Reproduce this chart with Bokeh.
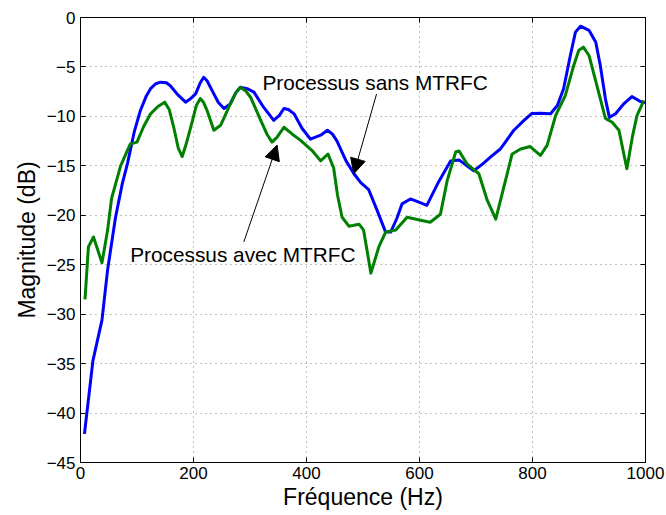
from bokeh.plotting import figure
from bokeh.models import Range1d, FixedTicker, Label, Arrow, NormalHead, LinearAxis
from bokeh.embed import file_html
from bokeh.resources import INLINE

# ---- data ----
freq_sans = [7, 22, 38, 48, 62, 74, 83, 95, 106, 116, 124, 133, 142, 152, 159, 172, 186,
             195, 204, 212, 218, 224, 233, 244, 254, 265, 275, 283, 295, 307, 324, 342,
             352, 360, 368, 378, 392, 407, 425, 437, 446, 454, 470, 484, 496, 510, 525,
             540, 549, 560, 569, 584, 600, 613, 634, 655, 670, 684, 696, 712, 726, 743,
             767, 785, 799, 814, 832, 844, 855, 867, 876, 885, 900, 912, 920, 929, 936,
             947, 962, 976, 991, 1000]
mag_sans = [-42.1, -34.7, -30.6, -25.5, -20.2, -16.8, -14.8, -11.6, -9.4, -8.0, -7.2, -6.7,
            -6.54, -6.6, -6.9, -7.8, -8.56, -8.2, -7.7, -6.6, -6.04, -6.4, -7.4, -8.6, -9.2,
            -8.75, -7.6, -7.05, -7.2, -7.55, -9.07, -10.4, -9.9, -9.2, -9.3, -9.74, -11.2,
            -12.3, -11.9, -11.4, -11.8, -12.5, -14.5, -15.8, -16.7, -17.4, -19.5, -21.7,
            -21.7, -20.3, -18.85, -18.35, -18.7, -19.0, -16.6, -14.5, -14.4, -15.0, -15.5,
            -14.8, -14.1, -13.3, -11.4, -10.4, -9.7, -9.68, -9.74, -8.9, -7.2, -3.84, -1.48,
            -0.88, -1.3, -2.5, -4.85, -8.2, -10.1, -9.74, -8.7, -8.0, -8.5, -8.6]

freq_avec = [8, 14, 23, 38, 48, 55, 71, 88, 100, 112, 124, 137, 149, 157, 165, 173, 180,
             187, 195, 205, 212, 218, 224, 236, 248, 265, 275, 283, 292, 301, 319, 330,
             339, 348, 360, 375, 389, 410, 425, 438, 448, 455, 463, 475, 493, 501, 514,
             528, 540, 558, 578, 602, 619, 637, 649, 664, 670, 684, 705, 720, 735, 749,
             764, 779, 796, 814, 826, 841, 858, 873, 882, 890, 900, 914, 929, 941, 953,
             967, 977, 985, 997]
mag_avec = [-28.5, -23.2, -22.2, -24.8, -21.5, -18.3, -15.0, -12.8, -12.6, -11.0, -9.74,
            -9.0, -8.56, -9.3, -11.1, -13.2, -14.06, -12.8, -11.1, -8.9, -8.2, -8.6, -9.4,
            -11.4, -10.9, -8.75, -7.6, -7.05, -7.4, -8.06, -10.4, -11.8, -12.6, -12.1,
            -11.1, -11.8, -12.4, -13.45, -14.5, -13.8, -15.2, -18.0, -20.2, -21.1, -20.9,
            -21.5, -25.85, -23.2, -21.7, -21.5, -20.2, -20.5, -20.7, -19.9, -16.5, -13.6,
            -13.5, -14.8, -15.8, -18.5, -20.4, -17.2, -13.8, -13.3, -13.05, -13.95, -12.9,
            -9.9, -7.9, -4.85, -3.3, -3.0, -3.84, -6.9, -10.2, -10.6, -11.4, -15.3, -12.0,
            -9.9, -8.4]

x_ticks = [0, 200, 400, 600, 800, 1000]
x_tick_labels = ["0", "200", "400", "600", "800", "1000"]
y_ticks = [-45, -40, -35, -30, -25, -20, -15, -10, -5, 0]
y_tick_labels = ["\u221245", "\u221240", "\u221235", "\u221230", "\u221225", "\u221220",
                 "\u221215", "\u221210", "\u22125", "0"]

x_title = "Fréquence (Hz)"
y_title = "Magnitude (dB)"
label_sans = "Processus sans MTRFC"
label_avec = "Processus avec MTRFC"

FONT = "Liberation Sans"

p = figure(width=666, height=515, output_backend="svg", toolbar_location=None,
           x_range=Range1d(0, 1000), y_range=Range1d(-45, 0),
           min_border_left=80, min_border_right=21, min_border_top=17, min_border_bottom=53,
           background_fill_color="white", border_fill_color="white")
p.outline_line_color = "black"
p.outline_line_width = 1

for ax in (p.xaxis[0], p.yaxis[0]):
    ax.axis_line_color = "black"
    ax.axis_line_width = 1
    ax.major_tick_in = 5
    ax.major_tick_out = 0
    ax.minor_tick_line_color = None
    ax.major_tick_line_color = "black"
    ax.major_label_text_font = FONT
    ax.major_label_text_font_size = "17px"
    ax.major_label_text_color = "black"
    ax.axis_label_text_font = FONT
    ax.axis_label_text_font_size = "23px"
    ax.axis_label_text_font_style = "normal"
    ax.axis_label_text_color = "black"

p.xaxis[0].ticker = FixedTicker(ticks=x_ticks)
p.xaxis[0].major_label_overrides = dict(zip(x_ticks, x_tick_labels))
p.xaxis[0].major_label_standoff = 4
p.xaxis[0].axis_label = x_title
p.xaxis[0].axis_label_standoff = 2
p.yaxis[0].ticker = FixedTicker(ticks=y_ticks)
p.yaxis[0].major_label_overrides = dict(zip(y_ticks, y_tick_labels))
p.yaxis[0].major_label_standoff = 5
p.yaxis[0].axis_label = y_title
p.yaxis[0].axis_label_standoff = 4

# mirrored ticks (right, top), without labels
for loc, tk in (("right", y_ticks), ("above", x_ticks)):
    a = LinearAxis(ticker=FixedTicker(ticks=tk), axis_line_color=None,
                   major_tick_in=5, major_tick_out=0, minor_tick_line_color=None,
                   major_label_standoff=0, major_tick_line_color="black",
                   major_label_overrides={t: "" for t in tk})
    p.add_layout(a, loc)

p.xgrid.ticker = FixedTicker(ticks=x_ticks)
p.ygrid.ticker = FixedTicker(ticks=y_ticks)
for g in (p.xgrid[0], p.ygrid[0]):
    g.grid_line_color = "#808080"
    g.grid_line_dash = "1 4"
    g.grid_line_width = 1

p.line(freq_sans, mag_sans, line_color="#0000ff", line_width=3, line_join="round")
p.line(freq_avec, mag_avec, line_color="#008000", line_width=3, line_join="round")

# annotations
p.add_layout(Label(x=322, y=-6.6, text=label_sans, text_font=FONT, text_font_size="20.8px",
                   text_align="left", text_baseline="middle", text_color="black"))
p.add_layout(Label(x=88, y=-24.0, text=label_avec, text_font=FONT, text_font_size="20.8px",
                   text_align="left", text_baseline="middle", text_color="black"))
p.add_layout(Arrow(end=NormalHead(size=15, fill_color="black", line_color="black"),
                   x_start=524, y_start=-7.74, x_end=483.7, y_end=-15.8,
                   line_color="black", line_width=1))
p.add_layout(Arrow(end=NormalHead(size=15, fill_color="black", line_color="black"),
                   x_start=289, y_start=-22.7, x_end=348, y_end=-12.9,
                   line_color="black", line_width=1))

open("out.html", "w").write(file_html(p, INLINE))
